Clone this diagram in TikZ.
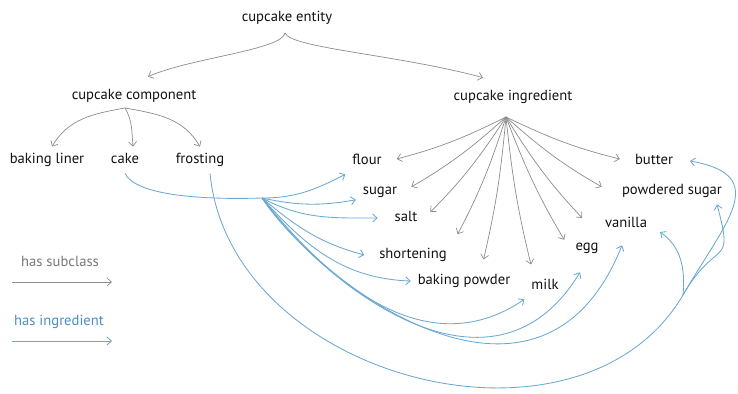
\documentclass[tikz,border=0pt]{standalone}
\usepackage{fontspec}
\setmainfont{PT Sans}
\usepackage{xcolor}
\definecolor{cupink}{HTML}{111111}
\definecolor{cupgray}{HTML}{8C8C8C}
\definecolor{cupgraytext}{HTML}{777777}
\definecolor{cupblue}{HTML}{6AA8D2}
\definecolor{cupbluetext}{HTML}{4A90C2}
\usepackage{tikz}
\usetikzlibrary{arrows.meta}

\begin{document}
\begin{tikzpicture}[x=0.25mm, y=0.25mm,
    every node/.style={align=center, text=cupink,
      font=\fontsize{10.4}{12}\selectfont,
      inner sep=2pt, outer sep=3pt, text height=7pt, text depth=2pt},
    sub/.style={draw=cupgray, line width=0.5pt,
      -{Straight Barb[length=1.1mm,width=2mm]}},
    ingr/.style={draw=cupblue, line width=0.6pt,
      -{Straight Barb[length=1.1mm,width=2mm]}}]
  \useasboundingbox (0,0) rectangle (738,-393);

  % class nodes
  \node (entity)   at (287,-18)  {cupcake entity};
  \node (compo)    at (134,-96)  {cupcake component};
  \node (ingred)   at (513,-97)  {cupcake ingredient};
  \node (liner)    at (47,-160)  {baking liner};
  \node (cake)     at (125,-160) {cake};
  \node (frosting) at (200,-160) {frosting};

  \node (flour)      at (367,-161) {flour};
  \node (sugar)      at (380,-191) {sugar};
  \node (salt)       at (406,-218) {salt};
  \node (shortening) at (413,-255) {shortening};
  \node (bpowder)    at (464,-281) {baking powder};
  \node (milk)       at (545,-286) {milk};
  \node (egg)        at (587,-247) {egg};
  \node (vanilla)    at (626,-224) {vanilla};
  \node (butter)     at (654,-161) {butter};
  \node (psugar)     at (672,-191) {powdered sugar};

  % legend
  \node[text=cupgraytext] (legsub)   at (60,-263) {has subclass};
  \node[text=cupbluetext] (legingr)  at (59,-322) {has ingredient};
  \coordinate (subL)  at (12,-282);
  \coordinate (subR)  at (112,-282);
  \coordinate (ingrL) at (12,-341);
  \coordinate (ingrR) at (112,-341);
  \draw[sub]  (subL) -- (subR);
  \draw[ingr] (ingrL) -- (ingrR);

  % branch points
  \coordinate (ehub)    at (285,-33);
  \coordinate (chub)    at (125,-108);
  \coordinate (ihub)    at (506,-117);
  \coordinate (cakehub) at (262,-198);
  \coordinate (fhub)    at (683,-295);

  % has subclass
  \draw[sub] (ehub) .. controls (282,-50) and (190,-58) .. ([xshift=3.5mm,yshift=1.5mm]compo.north);
  \draw[sub] (ehub) .. controls (290,-48) and (400,-55) .. ([xshift=-7.5mm,yshift=1.5mm]ingred.north);

  \draw[sub] (chub) to[out=190,in=60] ([xshift=1.25mm]liner.north);
  \draw[sub] (chub) to[out=-60,in=95] ([xshift=2mm]cake.north);
  \draw[sub] (chub) to[out=-10,in=120] (frosting.north);

  \begin{scope}[shorten >=6pt]
    \draw[sub] (ihub) to[bend left=6] (flour.east);
    \draw[sub] (ihub) to[bend left=6] (sugar.east);
    \draw[sub] (ihub) to[bend left=6] (salt.east);
    \draw[sub] (ihub) to[bend left=5] (shortening.north east);
    \draw[sub] (ihub) to[bend left=4] ([xshift=4.4mm]bpowder.north);
    \draw[sub] (ihub) to[bend right=4] ([xshift=-3mm]milk.north);
    \draw[sub] (ihub) to[bend right=5] (egg.west);
    \draw[sub] (ihub) to[bend right=6] ([xshift=-2.5mm]vanilla.west);
    \draw[sub] (ihub) to[bend right=6] ([xshift=-1.5mm]psugar.west);
    \draw[sub] (ihub) to[bend right=6] (butter.west);
  \end{scope}

  % has ingredient: cake
  \draw[ingr, -] (cake.south) .. controls (135,-195) and (200,-200) .. (cakehub);
  \draw[ingr] (cakehub) to[out=0,in=207] (flour.south west);
  \draw[ingr] (cakehub) to[out=-12,in=190] (sugar.200);
  \draw[ingr] (cakehub) to[out=-28,in=180] ([xshift=-2.5mm]salt.west);
  \draw[ingr] (cakehub) to[out=-40,in=165] ([xshift=-2mm]shortening.west);
  \draw[ingr] (cakehub) to[out=-48,in=178] (bpowder.west);
  \draw[ingr] (cakehub) .. controls (320,-270) and (420,-370) .. (milk.south west);
  \draw[ingr] (cakehub) .. controls (320,-280) and (490,-420) .. ([xshift=-1.75mm,yshift=-3mm]egg.south);
  \draw[ingr] (cakehub) .. controls (320,-285) and (540,-450) .. ([xshift=-1mm,yshift=-2mm]vanilla.south);

  % has ingredient: frosting
  \draw[ingr, -] ([xshift=2.5mm]frosting.south) .. controls (230,-380) and (580,-470) .. (fhub);
  \draw[ingr] (fhub) to[out=85,in=-35] ([xshift=1.5mm,yshift=-2mm]vanilla.east);
  \draw[ingr] (fhub) to[out=60,in=-75,looseness=1.8] ([xshift=-3mm]psugar.south east);
  \draw[ingr] (fhub) to[out=60,in=-10,looseness=1.6] ([xshift=2.5mm]butter.east);
\end{tikzpicture}
\end{document}
